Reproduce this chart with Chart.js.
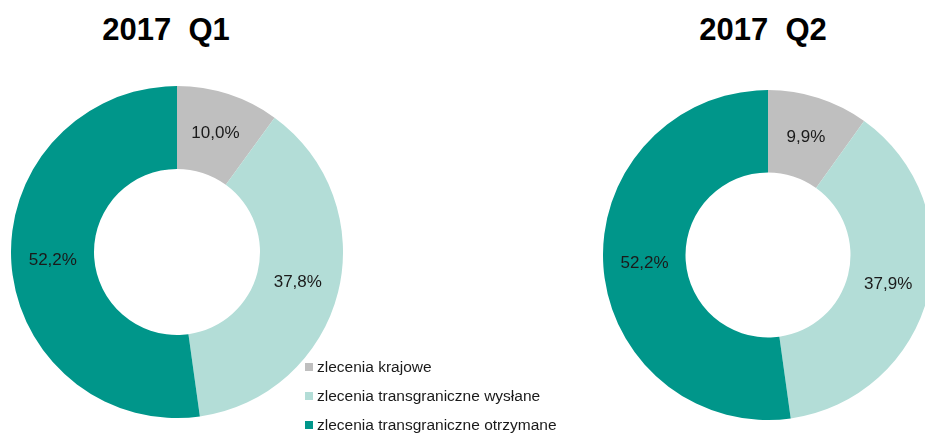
<!DOCTYPE html>
<html>
<head>
<meta charset="utf-8">
<script src="https://cdn.jsdelivr.net/npm/chart.js@4"></script>
<style>
    html, body { margin: 0; padding: 0; background: #ffffff; }
    body { width: 925px; height: 433px; overflow: hidden; position: relative; font-family: "Liberation Sans", Arial, sans-serif; }
    .title { position: absolute; top: 12px; font-size: 31px; font-weight: bold; color: #000; white-space: pre; text-align: center; width: 200px; }
    .box { position: absolute; }
    #legend { position: absolute; left: 305px; top: 356px; font-size: 15.5px; color: #1a1a1a; }
    #legend div { height: 29px; line-height: 22px; white-space: nowrap; }
    #legend span { display: inline-block; width: 8px; height: 8px; margin-right: 4px; vertical-align: 1px; }
</style>
</head>
<body>
<div class="title" id="title1" style="left: 66px;"></div>
<div class="title" id="title2" style="left: 663px;"></div>
<div class="box" style="left: 11px; top: 86px; width: 332px; height: 332px;"><canvas id="chart1"></canvas></div>
<div class="box" style="left: 603px; top: 90px; width: 330px; height: 330px;"><canvas id="chart2"></canvas></div>
<div id="legend"></div>
<script>
// Data
const categories = ['zlecenia krajowe', 'zlecenia transgraniczne wysłane', 'zlecenia transgraniczne otrzymane'];
const periods = ['2017  Q1', '2017  Q2'];
const valuesQ1 = [10.0, 37.8, 52.2];
const valuesQ2 = [9.9, 37.9, 52.2];
const colors = ['#bfbfbf', '#b3ddd7', '#00968a'];

// Percent labels in the middle of each slice
const sliceLabels = {
    id: 'sliceLabels',
    afterDatasetsDraw: function (chart) {
        const ctx = chart.ctx;
        const meta = chart.getDatasetMeta(0);
        const values = chart.data.datasets[0].data;
        ctx.save();
        ctx.font = '17px "Liberation Sans", Arial, sans-serif';
        ctx.fillStyle = '#1a1a1a';
        ctx.textAlign = 'center';
        ctx.textBaseline = 'middle';
        meta.data.forEach(function (arc, i) {
            const pos = arc.tooltipPosition();
            ctx.fillText(values[i].toFixed(1).replace('.', ',') + '%', pos.x, pos.y);
        });
        ctx.restore();
    }
};

function makeDonut(id, values) {
    return new Chart(document.getElementById(id), {
        type: 'doughnut',
        data: {
            labels: categories,
            datasets: [{
                data: values,
                backgroundColor: colors,
                borderWidth: 0
            }]
        },
        options: {
            responsive: true,
            maintainAspectRatio: false,
            animation: false,
            cutout: '50%',
            layout: { padding: 0 },
            plugins: {
                legend: { display: false },
                tooltip: { enabled: false }
            }
        },
        plugins: [sliceLabels]
    });
}

document.getElementById('title1').textContent = periods[0];
document.getElementById('title2').textContent = periods[1];

makeDonut('chart1', valuesQ1);
makeDonut('chart2', valuesQ2);

// Legend
const legend = document.getElementById('legend');
categories.forEach(function (name, i) {
    const row = document.createElement('div');
    const sw = document.createElement('span');
    sw.style.background = colors[i];
    row.appendChild(sw);
    row.appendChild(document.createTextNode(name));
    legend.appendChild(row);
});
</script>
</body>
</html>
